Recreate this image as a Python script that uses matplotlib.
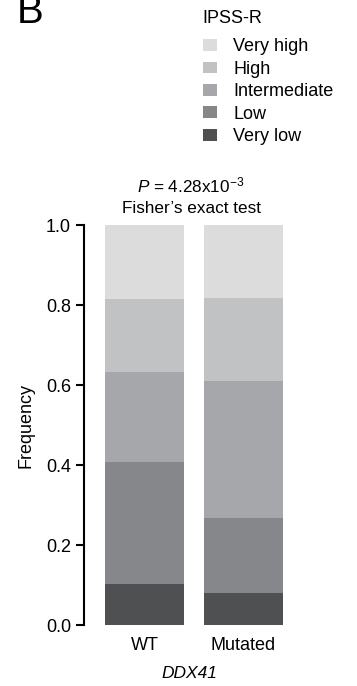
import matplotlib
matplotlib.use("Agg")
import matplotlib.pyplot as plt
from matplotlib.patches import Patch
import numpy as np

plt.rcParams['font.family'] = ['Liberation Sans', 'DejaVu Sans']
plt.rcParams['mathtext.fontset'] = 'custom'
plt.rcParams['mathtext.rm'] = 'Liberation Sans'
plt.rcParams['mathtext.it'] = 'Liberation Sans:italic'

# IPSS-R risk group frequencies, stacked bottom to top
groups = ["WT", "Mutated"]
risk_levels = ["Very low", "Low", "Intermediate", "High", "Very high"]
wt_freq = [0.1025, 0.305, 0.225, 0.1825, 0.185]
mutated_freq = [0.08, 0.1875, 0.3425, 0.2075, 0.1825]
level_colors = ["#4f5052", "#86878a", "#a6a7aa", "#c1c2c4", "#dcdcdd"]
y_ticks = [0.0, 0.2, 0.4, 0.6, 0.8, 1.0]
p_value_text = r"$\it{P}$ = 4.28x10$^{-3}$"
test_text = "Fisher\u2019s exact test"
gene = "DDX41"
legend_title = "IPSS-R"

W, H = 357, 686
fig = plt.figure(figsize=(W / 100, H / 100), dpi=100)


def fx(x):
    return x / W


def fy(y):
    return 1 - y / H


# axes placed in pixel units
ax_left, ax_top, ax_bottom = 84, 225, 625
unit = 99.0
xmin, xmax = -0.611, 1.6
ax = fig.add_axes([fx(ax_left), fy(ax_bottom), (xmax - xmin) * unit / W,
                   (ax_bottom - ax_top) / H])

data = np.array([wt_freq, mutated_freq])  # groups x levels
x = np.arange(len(groups))
bottom = np.zeros(len(groups))
for i, level in enumerate(risk_levels):
    ax.bar(x, data[:, i], width=0.8, bottom=bottom, color=level_colors[i],
           edgecolor="none", label=level)
    bottom += data[:, i]

ax.set_xlim(xmin, xmax)
ax.set_ylim(0, 1)
ax.set_yticks(y_ticks)
ax.set_yticklabels([f"{t:.1f}" for t in y_ticks])
ax.set_xticks(x)
ax.set_xticklabels(groups)
for s in ["top", "right", "bottom"]:
    ax.spines[s].set_visible(False)
ax.spines["left"].set_linewidth(1.5)
ax.tick_params(axis="y", length=5.8, width=1.5, pad=3.6, labelsize=13)
ax.tick_params(axis="x", length=0, pad=9, labelsize=13)

fig.text(fx(25.5), fy(425), "Frequency", rotation=90, ha="center",
         va="center", fontsize=13)
fig.text(fx(189), fy(678), gene, style="italic", ha="center",
         va="baseline", fontsize=12.5)

fig.text(fx(191), fy(192), p_value_text, ha="center", va="baseline",
         fontsize=12.3)
fig.text(fx(191), fy(212.7), test_text, ha="center", va="baseline",
         fontsize=12.3)

fig.text(fx(17), fy(23), "B", ha="left", va="baseline", fontsize=29)

# legend: title drawn as its own text, entries from most to least severe
fig.text(fx(202.5), fy(22.7), legend_title, ha="left", va="baseline",
         fontsize=13)
handles = [Patch(facecolor=c, edgecolor="none", label=l)
           for l, c in zip(risk_levels[::-1], level_colors[::-1])]
leg = fig.legend(handles=handles, loc="upper left",
                 bbox_to_anchor=(fx(203), fy(38.4)), frameon=False,
                 borderpad=0, borderaxespad=0, fontsize=13,
                 handlelength=0.78, handleheight=0.64,
                 handletextpad=0.89, labelspacing=0.3)

fig.savefig("out.png", dpi=100)
